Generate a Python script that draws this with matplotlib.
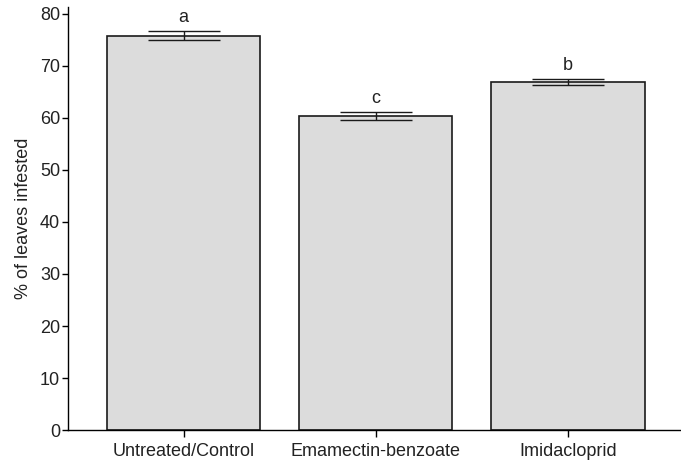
import matplotlib
matplotlib.use("Agg")
import matplotlib.pyplot as plt

plt.rcParams['font.family'] = ['Liberation Sans', 'DejaVu Sans']

# data
traitements = ['Untreated/Control', 'Emamectin-benzoate', 'Imidacloprid']
infestation = [75.8, 60.3, 66.9]
erreur = [0.9, 0.8, 0.6]
lettres = ['a', 'c', 'b']

fig = plt.figure(figsize=(6.81, 4.62), dpi=100)
ax = fig.add_axes([0.1005, 0.069, 0.8995, 0.916])

positions = list(range(len(traitements)))
ax.bar(positions, infestation, width=0.8, color='#dcdcdc', edgecolor='#1a1a1a',
       linewidth=1.2, zorder=2)
ax.errorbar(positions, infestation, yerr=erreur, fmt='none', ecolor='#1a1a1a',
            elinewidth=1.0, capsize=26, capthick=1.0, zorder=3)

for x, y, e, l in zip(positions, infestation, erreur, lettres):
    ax.text(x, y + e + 0.9, l, ha='center', va='bottom', fontsize=13, color='#222222')

ax.set_xlim(-0.6, 2.59)
ax.set_ylim(0, 81.3)
ax.set_yticks(range(0, 81, 10))
ax.set_xticks(positions)
ax.set_xticklabels(traitements, fontsize=13, color='#222222')
ax.tick_params(axis='y', labelsize=13, labelcolor='#222222', length=4, width=1,
               direction='out', pad=2)
ax.tick_params(axis='x', length=5, width=1, direction='out', pad=4)
ax.set_ylabel('% of leaves infested', fontsize=13, labelpad=6, color='#222222')

ax.spines['top'].set_visible(False)
ax.spines['right'].set_visible(False)
ax.spines['left'].set_linewidth(1.0)
ax.spines['bottom'].set_linewidth(1.0)

plt.savefig('out.png', dpi=100)
